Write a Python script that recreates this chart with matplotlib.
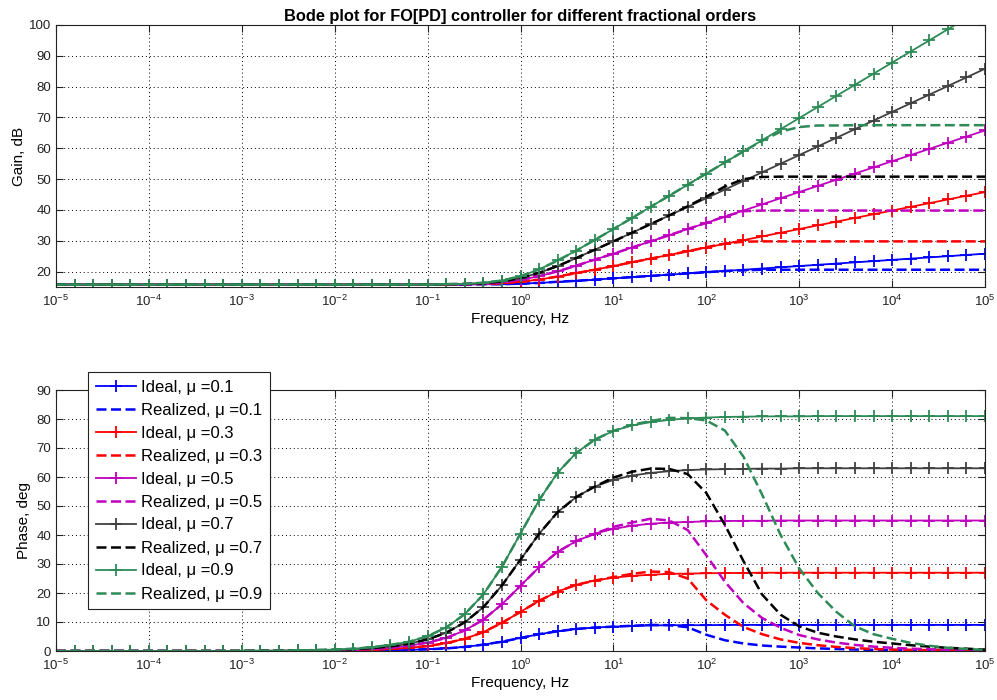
import numpy as np
import matplotlib
matplotlib.use('Agg')
import matplotlib.pyplot as plt

plt.rcParams['font.family'] = ['Liberation Sans', 'DejaVu Sans']
plt.rcParams['mathtext.fontset'] = 'custom'
plt.rcParams['mathtext.rm'] = 'Liberation Sans'
plt.rcParams['axes.unicode_minus'] = False

# frequency points, 5 per decade from 1e-5 to 1e5 Hz
freq = np.logspace(-5, 5, 51)
mu = [0.1, 0.3, 0.5, 0.7, 0.9]

# gain, dB (ideal)
gain_ideal_1 = [15.8] * 23 + [15.9, 15.9, 16.1, 16.3, 16.7, 17.0, 17.4, 17.8, 18.2, 18.6, 19.0, 19.4, 19.8, 20.2,
                              20.6, 21.0, 21.4, 21.8, 22.2, 22.6, 23.0, 23.4, 23.8, 24.2, 24.6, 25.0, 25.4, 25.8]
gain_ideal_3 = [15.8] * 21 + [15.8, 15.9, 16.0, 16.2, 16.7, 17.4, 18.4, 19.5, 20.6, 21.8, 23.0, 24.2, 25.4, 26.6,
                              27.8, 29.0, 30.2, 31.4, 32.6, 33.8, 35.0, 36.2, 37.4, 38.6, 39.8, 41.0, 42.2, 43.4, 44.6, 45.8]
gain_ideal_5 = [15.8] * 21 + [15.9, 15.9, 16.1, 16.5, 17.3, 18.5, 20.1, 21.9, 23.9, 25.8, 27.8, 29.8, 31.8, 33.8,
                              35.8, 37.8, 39.8, 41.8, 43.8, 45.8, 47.8, 49.8, 51.8, 53.8, 55.8, 57.8, 59.8, 61.8, 63.8, 65.8]
gain_ideal_7 = [15.8] * 21 + [15.9, 16.0, 16.2, 16.8, 17.9, 19.6, 21.8, 24.4, 27.1, 29.8, 32.6, 35.4, 38.2, 41.0,
                              43.8, 46.6, 49.4, 52.2, 55.0, 57.8, 60.6, 63.4, 66.2, 69.0, 71.8, 74.6, 77.4, 80.2, 83.0, 85.8]
gain_ideal_9 = [15.8] * 21 + [15.9, 16.0, 16.4, 17.1, 18.5, 20.7, 23.6, 26.8, 30.3, 33.8, 37.4, 41.0, 44.6, 48.2,
                              51.8, 55.4, 59.0, 62.6, 66.2, 69.8, 73.4, 77.0, 80.6, 84.2, 87.8, 91.4, 95.0, 98.6, 102.2, 105.8]

# gain, dB (realized)
gain_real_1 = [15.8] * 23 + [15.9, 15.9, 16.1, 16.3, 16.7, 17.0, 17.4, 17.8, 18.2, 18.6, 19.0, 19.4, 19.8, 20.2,
                             20.4, 20.6] + [20.6] * 12
gain_real_3 = [15.8] * 21 + [15.8, 15.9, 16.0, 16.2, 16.7, 17.4, 18.4, 19.5, 20.6, 21.8, 23.0, 24.2, 25.4, 26.6,
                             27.9, 29.1, 29.7, 29.8] + [29.8] * 12
gain_real_5 = [15.8] * 21 + [15.9, 15.9, 16.1, 16.5, 17.3, 18.5, 20.1, 21.9, 23.9, 25.8, 27.8, 29.8, 31.8, 33.8,
                             35.8, 37.9, 39.6, 39.8] + [39.8] * 12
gain_real_7 = [15.8] * 21 + [15.9, 16.0, 16.2, 16.8, 17.9, 19.6, 21.8, 24.4, 27.1, 29.8, 32.6, 35.4, 38.2, 41.2,
                             44.3, 47.6, 50.0, 50.7] + [50.8] * 12
gain_real_9 = [15.8] * 21 + [15.9, 16.0, 16.4, 17.1, 18.5, 20.7, 23.6, 26.8, 30.3, 33.8, 37.4, 41.0, 44.6, 48.2,
                             51.8, 55.4, 59.0, 62.4, 65.4, 66.9, 67.4, 67.4] + [67.5] * 8

# phase, deg (ideal)
phase_ideal_1 = [0.0] * 15 + [0.1, 0.1, 0.1, 0.2, 0.4, 0.6, 0.9, 1.4, 2.2, 3.2, 4.5, 5.8, 6.8, 7.6, 8.1, 8.4, 8.6,
                              8.8, 8.9, 8.9, 8.9] + [9.0] * 15
phase_ideal_3 = [0.0] * 13 + [0.1, 0.1, 0.2, 0.3, 0.4, 0.7, 1.1, 1.7, 2.7, 4.2, 6.5, 9.7, 13.5, 17.3, 20.5, 22.8,
                              24.3, 25.3, 25.9, 26.3, 26.6, 26.7, 26.8, 26.9, 26.9] + [27.0] * 13
phase_ideal_5 = [0.0] * 12 + [0.1, 0.1, 0.2, 0.3, 0.5, 0.7, 1.1, 1.8, 2.9, 4.5, 7.1, 10.8, 16.1, 22.5, 28.9, 34.2,
                              37.9, 40.5, 42.1, 43.2, 43.9, 44.3, 44.5, 44.7, 44.8, 44.9, 44.9] + [45.0] * 12
phase_ideal_7 = [0.0] * 11 + [0.1, 0.1, 0.2, 0.3, 0.4, 0.6, 1.0, 1.6, 2.5, 4.0, 6.3, 9.9, 15.1, 22.6, 31.5, 40.4,
                              47.9, 53.1, 56.7, 59.0, 60.5, 61.4, 62.0, 62.4, 62.6, 62.7, 62.8, 62.9, 62.9] + [63.0] * 11
phase_ideal_9 = [0.0] * 10 + [0.1, 0.1, 0.1, 0.2, 0.3, 0.5, 0.8, 1.3, 2.1, 3.2, 5.1, 8.1, 12.7, 19.5, 29.0, 40.5,
                              52.0, 61.5, 68.3, 72.9, 75.9, 77.8, 78.9, 79.7, 80.2, 80.5, 80.7, 80.8, 80.9, 80.9,
                              80.9] + [81.0] * 10

# phase, deg (realized)
phase_real_1 = [0.0] * 15 + [0.1, 0.1, 0.1, 0.2, 0.4, 0.6, 0.9, 1.4, 2.2, 3.2, 4.5, 5.8, 6.8, 7.6, 8.1,
                             8.4, 8.7, 9.0, 8.9, 8.2, 5.6, 3.7, 2.6, 1.9, 1.5, 1.2, 0.9, 0.7, 0.5, 0.4, 0.3, 0.2,
                             0.2, 0.1, 0.1, 0.1]
phase_real_3 = [0.0] * 13 + [0.1, 0.1, 0.2, 0.3, 0.4, 0.7, 1.1, 1.7, 2.7, 4.2, 6.5, 9.7, 13.5, 17.3, 20.5, 22.8, 24.3,
                             25.5, 26.6, 27.4, 27.2, 25.0, 17.5, 12.5, 8.3, 5.8, 4.0, 2.8, 2.0, 1.4, 1.0, 0.7, 0.5,
                             0.4, 0.3, 0.2, 0.1, 0.1]
phase_real_5 = [0.0] * 12 + [0.1, 0.1, 0.2, 0.3, 0.5, 0.7, 1.1, 1.8, 2.9, 4.5, 7.1, 10.8, 16.1, 22.5, 28.9, 34.2, 37.9,
                             40.5, 42.8, 44.3, 45.6, 45.0, 41.7, 33.0, 23.9, 16.5, 11.4, 8.0, 5.5, 4.0, 2.9, 2.1, 1.5,
                             1.1, 0.8, 0.6, 0.4, 0.3, 0.2]
phase_real_7 = [0.0] * 11 + [0.1, 0.1, 0.2, 0.3, 0.4, 0.6, 1.0, 1.6, 2.5, 4.0, 6.3, 9.9, 15.1, 22.6, 31.5, 40.4, 47.9,
                             53.1, 56.7, 59.8, 61.8, 62.9, 62.8, 61.0, 54.5, 43.5, 31.0, 19.5, 12.5, 8.5, 6.3, 5.0,
                             4.0, 3.2, 2.6, 2.0, 1.5, 1.1, 0.8, 0.5]
phase_real_9 = [0.0] * 10 + [0.1, 0.1, 0.1, 0.2, 0.3, 0.5, 0.8, 1.3, 2.1, 3.2, 5.1, 8.1, 12.7, 19.5, 29.0, 40.5, 52.0,
                             61.5, 68.3, 72.9, 75.9, 78.0, 79.3, 80.4, 80.3, 79.5, 76.0, 67.0, 54.0, 40.0, 28.5, 20.0,
                             13.5, 8.5, 5.8, 4.2, 2.8, 1.8, 1.1, 0.7, 0.4]

gain_ideal = [gain_ideal_1, gain_ideal_3, gain_ideal_5, gain_ideal_7, gain_ideal_9]
gain_real = [gain_real_1, gain_real_3, gain_real_5, gain_real_7, gain_real_9]
phase_ideal = [phase_ideal_1, phase_ideal_3, phase_ideal_5, phase_ideal_7, phase_ideal_9]
phase_real = [phase_real_1, phase_real_3, phase_real_5, phase_real_7, phase_real_9]

col_ideal = ['#0000ff', '#ff0000', '#bf00bf', '#404040', '#2e8b57']
col_real = ['#0000ff', '#ff0000', '#bf00bf', '#000000', '#2e8b57']

fig = plt.figure(figsize=(9.97, 7.0), dpi=100)
ax1 = fig.add_axes([56/997, 1-287/700, (985-56)/997, (287-25)/700])
ax2 = fig.add_axes([56/997, 1-651/700, (985-56)/997, (651-390)/700])

for ax, ideal, real in ((ax1, gain_ideal, gain_real), (ax2, phase_ideal, phase_real)):
    for i, m in enumerate(mu):
        ax.semilogx(freq, ideal[i], '-', marker='+', color=col_ideal[i], lw=1.3, ms=8, mew=1.3,
                    label='Ideal, \u03bc =%.1f' % m)
        ax.semilogx(freq, real[i], '--', color=col_real[i], lw=1.8, dashes=(4, 1.8),
                    label='Realized, \u03bc =%.1f' % m)
    ax.set_xlim(1e-5, 1e5)
    ax.set_xticks(10.0 ** np.arange(-5, 6))
    ax.grid(True, which='major', axis='both', linestyle=(0, (1, 3)), color='k', lw=0.7)
    ax.grid(True, which='minor', axis='x', linestyle=(0, (1, 3)), color='k', lw=0.7)
    ax.tick_params(which='both', direction='in', top=True, right=True, labelsize=9.5, colors='#222222')
    ax.tick_params(which='major', length=5)
    ax.tick_params(which='minor', length=3)
    ax.tick_params(axis='x', pad=5)
    for s in ax.spines.values():
        s.set_color('#222222')
        s.set_linewidth(0.8)
    ax.set_xlabel('Frequency, Hz', fontsize=11, labelpad=2)

ax1.set_ylim(15, 100)
ax1.set_yticks(np.arange(20, 101, 10))
ax1.set_ylabel('Gain, dB', fontsize=11, labelpad=2)
ax1.set_title('Bode plot for FO[PD] controller for different fractional orders', fontsize=11.8,
              fontweight='bold', pad=3)

ax2.set_ylim(0, 90)
ax2.set_yticks(np.arange(0, 91, 10))
ax2.set_ylabel('Phase, deg', fontsize=11, labelpad=4)

leg = ax2.legend(loc='upper left', bbox_to_anchor=(88/997, 1-372/700), bbox_transform=fig.transFigure,
                 borderaxespad=0, fontsize=12, handlelength=2.45, handletextpad=0.3, labelspacing=0.48,
                 borderpad=0.45, fancybox=False, framealpha=1, edgecolor='#222222', numpoints=1)
leg.get_frame().set_linewidth(0.8)

fig.savefig('out.png', dpi=100)
